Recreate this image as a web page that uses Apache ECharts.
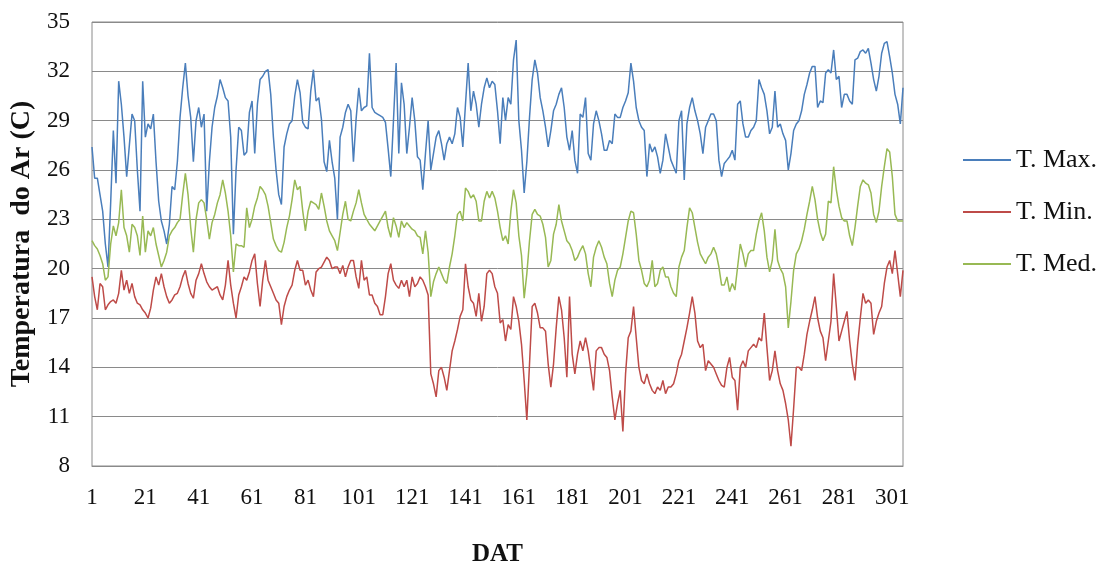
<!DOCTYPE html>
<html>
<head>
<meta charset="utf-8">
<script src="https://cdn.jsdelivr.net/npm/echarts@6/dist/echarts.min.js"></script>
<style>
html,body{margin:0;padding:0;background:#fff;}
#chart{width:1120px;height:565px;}
</style>
</head>
<body>
<div id="chart"></div>
<script>
const seriesNames = ['T. Max.', 'T. Min.', 'T. Med.'];
const yTicks = [8, 11, 14, 17, 20, 23, 26, 29, 32, 35];
const dayCount = 305;
const days = Array.from({length: dayCount}, (_, i) => String(i + 1));

const tMax = [
27.4,25.5,25.5,24.5,23.5,21.5,20.1,24.0,28.4,25.2,31.4,30.0,28.0,25.6,27.5,29.4,29.0,26.0,23.5,31.4,
28.0,28.8,28.5,29.4,26.5,24.1,22.9,22.3,21.5,22.7,25.0,24.8,26.5,29.2,31.0,32.5,30.5,29.2,26.5,29.0,
29.8,28.6,29.4,23.5,26.5,28.6,29.8,30.5,31.5,31.0,30.4,30.2,28.0,22.1,26.0,28.6,28.4,26.9,27.1,29.5,
30.2,27.0,30.0,31.5,31.7,32.0,32.1,30.6,28.0,26.0,24.5,23.9,27.4,28.2,28.8,29.0,30.5,31.5,30.7,28.9,
28.6,28.5,30.8,32.1,30.2,30.4,29.1,26.5,25.9,27.8,26.5,25.5,23.0,28.0,28.6,29.5,30.0,29.6,26.5,29.1,
31.0,29.6,29.8,29.9,33.1,29.8,29.5,29.4,29.3,29.2,28.9,27.3,25.6,29.0,32.5,27.0,31.3,30.0,27.0,28.6,
30.4,29.0,26.8,26.6,24.8,27.0,29.0,26.0,27.0,28.0,28.4,27.6,26.6,27.6,28.0,27.6,28.2,29.8,29.2,27.4,
30.0,32.5,29.6,30.8,30.0,28.6,30.0,31.0,31.6,31.0,31.4,31.2,29.6,27.6,30.4,29.0,30.4,30.0,32.7,33.9,
29.0,27.2,24.6,26.5,29.2,31.5,32.7,31.9,30.4,29.6,28.6,27.4,28.4,29.6,30.0,30.6,31.0,29.8,28.0,27.2,
28.4,26.6,25.8,29.4,29.2,30.4,27.0,26.6,28.8,29.6,29.0,28.2,27.2,27.2,27.8,27.6,29.4,29.2,29.2,29.8,
30.2,30.7,32.5,31.4,29.8,29.0,28.6,28.4,25.6,27.6,27.1,27.4,26.8,25.8,26.6,28.2,27.4,26.6,26.2,25.8,
29.0,29.6,25.4,28.8,29.8,30.4,29.6,29.0,28.2,27.0,28.6,29.0,29.4,29.4,29.0,26.6,25.6,26.4,26.6,26.8,
27.2,26.6,30.0,30.2,28.8,28.0,28.0,28.4,28.6,29.0,31.5,31.0,30.6,29.6,28.2,28.6,30.8,28.6,28.8,28.2,
27.8,26.0,27.0,28.4,28.8,29.0,29.6,30.6,31.2,31.9,32.3,32.3,29.8,30.2,30.1,31.9,32.1,31.9,33.3,31.5,
31.7,29.8,30.6,30.6,30.2,30.0,32.7,32.8,33.2,33.3,33.1,33.4,32.5,31.5,30.8,31.7,33.1,33.7,33.8,32.9,
31.9,30.6,30.0,28.8,31.0
];

const tMin = [
19.5,18.3,17.5,19.1,18.9,17.5,17.8,18.0,18.1,17.9,18.5,19.9,18.7,19.3,18.5,19.1,18.3,17.9,17.8,17.5,
17.3,17.0,17.6,18.7,19.5,19.0,19.7,18.9,18.3,17.9,18.1,18.4,18.5,18.9,19.5,19.9,19.1,18.5,18.2,19.3,
19.7,20.3,19.7,19.2,18.9,18.7,18.8,18.9,18.4,18.1,19.0,20.5,19.0,17.9,17.0,18.4,18.9,19.5,19.3,19.8,
20.5,20.9,19.1,17.7,19.3,20.5,19.3,18.9,18.5,18.1,17.9,16.6,17.7,18.3,18.7,19.0,19.9,20.5,19.9,19.9,
19.0,19.3,18.7,18.3,19.8,20.0,20.1,20.4,20.7,20.5,20.0,20.1,20.1,19.7,20.2,19.5,20.1,20.5,20.5,19.5,
18.8,20.5,19.3,19.5,18.4,18.4,17.9,17.7,17.2,17.2,18.3,19.7,20.3,19.3,19.0,18.8,19.3,18.9,19.3,18.3,
19.5,18.9,19.1,19.5,19.3,18.9,18.4,13.6,13.0,12.2,13.8,14.0,13.4,12.6,13.8,15.0,15.6,16.3,17.1,17.5,
20.3,18.9,18.1,17.9,17.1,18.5,16.8,17.7,19.7,19.9,19.7,18.9,18.5,16.7,16.9,15.6,16.6,16.3,18.3,17.7,
16.8,15.4,13.2,10.8,14.2,17.7,17.9,17.3,16.4,16.4,16.2,14.2,12.8,14.2,16.4,18.3,17.5,15.8,13.4,18.3,
14.8,13.6,14.8,15.6,15.0,15.8,15.0,13.8,12.6,15.0,15.2,15.2,14.8,14.6,13.8,12.2,10.8,11.8,12.6,10.1,
13.6,15.8,16.2,17.7,15.8,14.0,13.2,13.0,13.6,13.0,12.6,12.4,12.8,12.6,13.2,12.4,12.8,12.8,13.0,13.6,
14.4,14.8,15.6,16.4,17.3,18.3,17.3,15.6,15.2,15.4,13.8,14.4,14.2,14.0,13.6,13.2,12.9,12.8,14.0,14.6,
13.4,13.2,11.4,14.0,14.4,14.0,15.0,15.2,15.4,15.2,15.8,15.6,17.3,15.2,13.2,13.8,15.0,13.8,13.0,12.6,
11.8,10.8,9.2,11.5,14.0,14.0,13.8,14.8,16.0,16.8,17.5,18.3,17.0,16.2,15.8,14.4,15.6,16.8,19.7,17.7,
15.6,16.2,16.8,17.4,15.6,14.2,13.2,15.4,17.0,18.5,17.9,18.1,17.9,16.0,16.8,17.3,17.7,19.1,20.1,20.5,
19.7,21.1,19.7,18.3,19.9
];

const tMed = [
21.7,21.4,21.2,20.8,20.3,19.3,19.5,21.5,22.6,22.0,22.8,24.8,22.5,22.0,21.0,22.7,22.5,22.0,20.8,23.2,
21.0,22.3,22.0,22.5,21.5,20.8,20.1,20.5,21.0,22.0,22.3,22.5,22.8,23.0,24.5,25.8,24.5,22.5,21.0,23.0,
24.0,24.2,24.0,23.0,21.8,22.8,23.3,24.0,24.5,25.4,24.6,23.5,22.0,19.8,21.5,21.4,21.4,21.3,23.7,22.5,
23.0,23.8,24.3,25.0,24.8,24.5,23.8,22.8,21.8,21.4,21.1,21.0,21.6,22.5,23.2,24.2,25.4,24.8,25.0,23.5,
22.3,23.5,24.1,24.0,23.9,23.6,24.6,23.8,22.9,22.3,22.0,21.7,21.1,22.2,23.3,24.1,23.0,22.9,23.5,24.0,
24.8,24.0,23.3,23.0,22.7,22.5,22.3,22.6,22.9,23.2,23.5,22.5,21.9,23.1,22.6,21.9,22.9,22.5,22.8,22.6,
22.4,22.3,22.0,21.9,20.9,22.3,21.0,18.3,19.2,19.7,20.1,19.7,19.3,19.1,20.1,20.9,22.0,23.3,23.5,22.9,
24.9,24.7,24.3,24.5,24.1,22.9,22.9,24.1,24.7,24.3,24.7,24.3,23.5,22.5,21.7,22.0,21.5,23.5,24.8,24.0,
22.0,20.8,18.2,19.7,21.7,23.3,23.6,23.3,23.2,22.7,21.9,20.1,20.5,22.1,22.7,23.9,22.9,22.3,21.7,21.5,
21.1,20.5,20.7,21.1,21.4,20.9,19.7,18.9,20.7,21.3,21.7,21.3,20.7,20.3,19.1,18.3,19.3,19.9,20.1,20.9,
21.9,22.9,23.5,23.4,22.1,20.5,19.9,19.1,18.9,19.3,20.5,18.9,19.1,19.9,20.1,19.5,19.5,18.9,18.5,18.3,
20.1,20.7,21.1,22.5,23.7,23.4,22.5,21.6,20.9,20.6,20.3,20.7,20.9,21.3,20.9,20.1,19.0,19.0,19.5,18.6,
19.1,18.7,20.1,21.5,20.9,20.1,20.9,21.1,21.1,22.1,22.9,23.4,22.3,20.7,19.8,20.5,22.4,20.5,20.0,19.7,
18.9,16.4,18.0,19.9,20.9,21.2,21.7,22.4,23.3,24.1,25.0,24.2,23.0,22.2,21.7,22.1,24.1,24.0,26.2,24.8,
23.8,23.1,22.9,22.9,22.0,21.4,22.5,23.8,25.0,25.4,25.2,25.1,24.6,23.3,22.8,23.5,25.0,26.2,27.3,27.1,
25.6,23.3,22.9,22.9,22.9
];

const colors = ['#4A7EBB', '#BE4B48', '#98B954'];
const serif = '"Liberation Serif", "Times New Roman", serif';

const chart = echarts.init(document.getElementById('chart'), null, {renderer: 'canvas'});
chart.setOption({
  animation: false,
  backgroundColor: '#ffffff',
  color: colors,
  grid: {
    left: 92, top: 22, width: 811, height: 444,
    outerBoundsMode: 'none',
    containLabel: false,
    show: true, borderColor: '#8a8a8a', borderWidth: 1, backgroundColor: 'transparent'
  },
  legend: {
    orient: 'vertical',
    left: 963, top: 147,
    padding: 0,
    itemWidth: 48, itemHeight: 2, itemGap: 26,
    icon: 'rect',
    data: seriesNames,
    textStyle: {fontFamily: serif, fontSize: 26, color: '#111', lineHeight: 24}
  },
  xAxis: {
    type: 'category',
    data: days,
    boundaryGap: false,
    axisLine: {show: true, lineStyle: {color: '#8a8a8a'}},
    axisTick: {show: false},
    splitLine: {show: false},
    axisLabel: {interval: 19, fontFamily: serif, fontSize: 23, color: '#111', margin: 20},
    name: 'DAT',
    nameLocation: 'middle',
    nameGap: 76,
    nameTextStyle: {fontFamily: serif, fontSize: 25, fontWeight: 'bold', color: '#111'}
  },
  yAxis: {
    type: 'value',
    min: 8, max: 35,
    axisLine: {show: false},
    axisTick: {show: false, customValues: yTicks},
    splitLine: {show: true, lineStyle: {color: '#8a8a8a', width: 1}},
    axisLabel: {customValues: yTicks, fontFamily: serif, fontSize: 23, color: '#111', margin: 22},
    name: 'Temperatura  do Ar (C)',
    nameLocation: 'middle',
    nameRotate: 90,
    nameGap: 56,
    nameTextStyle: {fontFamily: serif, fontSize: 28, fontWeight: 'bold', color: '#111'}
  },
  series: [
    {name: seriesNames[0], type: 'line', data: tMax, showSymbol: false, symbol: 'none', lineStyle: {width: 1.5, color: colors[0]}, itemStyle: {color: colors[0]}},
    {name: seriesNames[1], type: 'line', data: tMin, showSymbol: false, symbol: 'none', lineStyle: {width: 1.5, color: colors[1]}, itemStyle: {color: colors[1]}},
    {name: seriesNames[2], type: 'line', data: tMed, showSymbol: false, symbol: 'none', lineStyle: {width: 1.5, color: colors[2]}, itemStyle: {color: colors[2]}}
  ]
});
</script>
</body>
</html>
